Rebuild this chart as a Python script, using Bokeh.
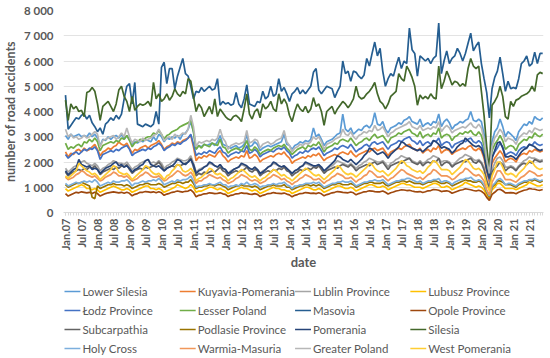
import math
from bokeh.plotting import figure
from bokeh.models import Range1d, FixedTicker, ColumnDataSource
from bokeh.core.properties import value
from bokeh.layouts import column
from bokeh.embed import file_html
from bokeh.resources import INLINE

# ---------------- data (monthly, Jan 2007 - Dec 2021) ----------------
x_labels = ["Jan.07", "Jul 07", "Jan.08", "Jul 08", "Jan 09", "Jul 09", "Jan 10", "Jul 10",
            "Jan.11", "Jul 11", "Jan 12", "Jul 12", "Jan 13", "Jul 13", "Jan 14", "Jul 14",
            "Jan 15", "Jul 15", "Jan 16", "Jul 16", "Jan 17", "Jul 17", "Jan 18", "Jul 18",
            "Jan 19", "Jul 19", "Jan 20", "Jul 20", "Jan 21", "Jul 21"]
y_ticks = [0, 1000, 2000, 3000, 4000, 5000, 6000, 7000, 8000]
y_tick_labels = ["0", "1 000", "2 000", "3 000", "4 000", "5 000", "6 000", "7 000", "8 000"]

lower_silesia = [
    3050, 2900, 3100, 3000, 3050, 3100, 3000, 3050, 3000, 3150, 3000, 3100,
    2950, 2650, 2900, 2850, 3000, 2900, 3000, 3050, 2950, 3100, 2900, 3050,
    2900, 2700, 2800, 2750, 2850, 2800, 2900, 2850, 2800, 3000, 2850, 3100,
    3000, 2800, 2950, 2900, 3000, 2950, 3050, 2900, 3100, 3150, 3300, 3600,
    3200, 2500, 2650, 2600, 2700, 2650, 2700, 2750, 2650, 2800, 3050, 2700,
    2650, 2600, 2550, 2600, 2650, 2550, 2600, 2700, 3100, 2600, 2650, 2800,
    2700, 2450, 2550, 2600, 2650, 2600, 2650, 2700, 2750, 2800, 3100, 2700,
    2650, 2500, 2650, 2700, 2800, 2750, 2850, 2800, 2900, 3350, 3000, 3100,
    2900, 2650, 2800, 2850, 2900, 3000, 3100, 3150, 3900, 3300, 3200, 3350,
    3100, 3200, 3300, 3250, 3400, 3450, 3350, 3500, 3950, 3500, 3450, 3600,
    3300, 3150, 3350, 3400, 3450, 3550, 3500, 3650, 3700, 3800, 3600, 3550,
    3500, 3700, 3400, 3500, 3550, 3450, 3600, 3550, 3900, 3400, 3600, 3700,
    3550, 3300, 3450, 3500, 3600, 3550, 3650, 3700, 4000, 3650, 3600, 3700,
    3600, 3100, 2300, 1650, 2800, 3200, 3350, 3700, 3400, 3000, 3200, 3100,
    3000, 2850, 3200, 3350, 3500, 3450, 3600, 3500, 3800, 3700, 3650, 3750]

kuyavia_pomerania = [
    2400, 2200, 2350, 2300, 2450, 2500, 2400, 2550, 2450, 2500, 2600, 2700,
    2500, 2250, 2400, 2450, 2550, 2500, 2600, 2650, 2800, 2700, 2650, 2750,
    2550, 2350, 2500, 2450, 2550, 2600, 2650, 2550, 2650, 2700, 2750, 2850,
    2700, 2500, 2600, 2650, 2750, 2700, 2800, 2750, 2850, 2900, 2950, 3050,
    2600, 2050, 2200, 2150, 2250, 2200, 2300, 2250, 2200, 2350, 2450, 2250,
    2150, 2000, 2100, 2150, 2200, 2150, 2250, 2200, 2450, 2150, 2200, 2300,
    2200, 2000, 2100, 2150, 2200, 2250, 2200, 2300, 2350, 2300, 2400, 2250,
    2150, 1950, 2050, 2100, 2150, 2200, 2150, 2250, 2200, 2300, 2250, 2350,
    2200, 2050, 2150, 2200, 2250, 2300, 2250, 2350, 2400, 2350, 2300, 2450,
    2300, 2200, 2300, 2350, 2400, 2450, 2400, 2500, 2550, 2450, 2500, 2550,
    2400, 2250, 2400, 2450, 2500, 2550, 2500, 2600, 2650, 2700, 2550, 2500,
    2450, 2550, 2350, 2450, 2500, 2400, 2550, 2500, 2650, 2350, 2450, 2500,
    2450, 2300, 2400, 2450, 2500, 2550, 2500, 2600, 2650, 2500, 2450, 2550,
    2450, 2150, 1600, 1200, 1950, 2150, 2300, 2450, 2300, 2000, 2100, 2150,
    2100, 2000, 2200, 2300, 2350, 2300, 2450, 2400, 2500, 2450, 2400, 2450]

lublin = [
    1750, 1600, 1700, 1800, 1850, 1900, 2000, 2050, 1950, 1900, 1850, 1950,
    1850, 1650, 1750, 1800, 1900, 1950, 2050, 2000, 1950, 1950, 1900, 2000,
    1850, 1700, 1800, 1850, 1950, 2000, 2050, 2100, 1950, 2000, 1950, 2050,
    1950, 1750, 1850, 1900, 2000, 2050, 2150, 2100, 2050, 2050, 2100, 2250,
    1950, 1600, 1700, 1750, 1800, 1850, 1950, 1900, 1850, 1800, 1900, 1750,
    1700, 1550, 1650, 1700, 1750, 1800, 1900, 1850, 1800, 1750, 1700, 1800,
    1700, 1550, 1650, 1700, 1800, 1850, 1950, 1900, 1850, 1800, 1850, 1750,
    1650, 1550, 1650, 1700, 1800, 1850, 1950, 1900, 1850, 1850, 1800, 1900,
    1750, 1600, 1700, 1800, 1850, 1950, 2050, 2000, 1950, 1900, 1850, 1950,
    1850, 1750, 1850, 1900, 2000, 2050, 2150, 2100, 2050, 2000, 2000, 2050,
    1950, 1800, 1950, 2000, 2100, 2150, 2250, 2200, 2150, 2150, 2050, 2000,
    1950, 2050, 1950, 2000, 2100, 2150, 2250, 2200, 2150, 2000, 2050, 2050,
    2000, 1850, 1950, 2050, 2150, 2200, 2300, 2250, 2200, 2100, 2050, 2100,
    2000, 1800, 1300, 1000, 1700, 1950, 2150, 2200, 2050, 1800, 1800, 1850,
    1800, 1700, 1850, 1950, 2050, 2100, 2200, 2150, 2150, 2100, 2050, 2100]

lubusz = [
    950, 850, 900, 950, 1000, 1050, 1100, 1050, 950, 950, 900, 950,
    900, 800, 850, 900, 950, 1000, 1050, 1000, 950, 900, 900, 950,
    900, 800, 850, 900, 950, 1000, 1050, 1050, 950, 950, 900, 950,
    900, 800, 850, 900, 950, 1000, 1100, 1050, 1000, 950, 1000, 1100,
    1000, 800, 850, 850, 900, 950, 1000, 1000, 950, 900, 950, 900,
    850, 750, 800, 850, 900, 950, 1000, 950, 950, 900, 850, 900,
    850, 750, 800, 850, 900, 950, 1000, 950, 950, 900, 900, 850,
    850, 750, 800, 850, 900, 950, 1000, 1000, 950, 900, 900, 950,
    900, 800, 850, 900, 950, 1000, 1050, 1050, 1000, 950, 950, 1000,
    950, 850, 900, 950, 1000, 1050, 1100, 1100, 1050, 1000, 1000, 1050,
    1000, 900, 950, 1000, 1050, 1100, 1150, 1150, 1100, 1100, 1050, 1000,
    1000, 1000, 950, 1000, 1050, 1100, 1150, 1150, 1100, 1000, 1000, 1050,
    1000, 900, 950, 1000, 1050, 1100, 1200, 1150, 1100, 1050, 1000, 1050,
    1000, 900, 700, 550, 900, 1000, 1150, 1150, 1050, 950, 950, 950,
    950, 900, 950, 1000, 1050, 1100, 1200, 1150, 1100, 1050, 1050, 1100]

lodz = [
    2300, 2150, 2250, 2350, 2400, 2300, 2400, 2500, 2450, 2550, 2500, 2600,
    2450, 2100, 2300, 2350, 2400, 2450, 2400, 2500, 2450, 2550, 2600, 2650,
    2500, 2250, 2350, 2400, 2450, 2500, 2450, 2550, 2500, 2600, 2650, 2750,
    2650, 2450, 2550, 2600, 2700, 2650, 2750, 2700, 2800, 2850, 2950, 3100,
    2700, 2250, 2350, 2300, 2400, 2350, 2450, 2400, 2350, 2500, 2600, 2400,
    2350, 2200, 2300, 2350, 2400, 2350, 2450, 2400, 2650, 2350, 2400, 2500,
    2400, 2200, 2300, 2350, 2400, 2450, 2400, 2500, 2550, 2500, 2600, 2450,
    2350, 2150, 2250, 2300, 2400, 2350, 2450, 2400, 2500, 2550, 2500, 2600,
    2450, 2250, 2350, 2400, 2450, 2550, 2500, 2600, 2650, 2600, 2550, 2700,
    2550, 2400, 2500, 2550, 2650, 2700, 2600, 2750, 2800, 2700, 2750, 2800,
    2650, 2500, 2650, 2700, 2750, 2850, 2800, 2900, 2950, 3000, 2850, 2800,
    2700, 2850, 2650, 2750, 2800, 2700, 2850, 2800, 2950, 2650, 2750, 2800,
    2750, 2550, 2700, 2750, 2800, 2850, 2800, 2900, 2950, 2800, 2750, 2850,
    2750, 2400, 1750, 1300, 2200, 2400, 2550, 2750, 2600, 2250, 2350, 2400,
    2350, 2250, 2450, 2550, 2600, 2550, 2700, 2650, 2800, 2700, 2650, 2700]

lesser_poland = [
    2750, 2500, 2600, 2550, 2650, 2700, 2600, 2800, 2750, 2900, 2800, 2950,
    2800, 2450, 2650, 2700, 2750, 2800, 2750, 2850, 2800, 2950, 2900, 3050,
    2850, 2600, 2750, 2800, 2900, 2850, 2950, 3000, 3000, 3150, 3100, 3250,
    3100, 2900, 3050, 3100, 3200, 3250, 3300, 3400, 3450, 3500, 3550, 3650,
    3200, 2500, 2650, 2550, 2700, 2650, 2600, 2750, 2700, 2650, 2900, 2600,
    2550, 2350, 2450, 2500, 2550, 2500, 2450, 2600, 2850, 2500, 2450, 2600,
    2500, 2300, 2400, 2450, 2500, 2450, 2550, 2600, 2650, 2600, 2700, 2550,
    2450, 2300, 2400, 2500, 2550, 2600, 2500, 2650, 2600, 2700, 2650, 2800,
    2600, 2400, 2550, 2600, 2650, 2750, 2700, 2850, 2900, 2850, 2800, 2950,
    2800, 2650, 2750, 2800, 2900, 2950, 2850, 3000, 3100, 2950, 3000, 3050,
    2900, 2750, 2950, 3000, 3050, 3150, 3100, 3200, 3250, 3300, 3150, 3100,
    3000, 3200, 2950, 3050, 3100, 3000, 3150, 3100, 3350, 2950, 3050, 3100,
    3050, 2850, 3000, 3050, 3150, 3100, 3200, 3150, 3250, 3100, 3050, 3200,
    3050, 2650, 1900, 1500, 2450, 2700, 2850, 3050, 2850, 2500, 2600, 2650,
    2600, 2450, 2700, 2800, 2900, 2850, 3000, 2950, 3150, 3050, 3000, 3100]

masovia = [
    4650, 3300, 3450, 3600, 3750, 3700, 3850, 3900, 3700, 3850, 3550, 3400,
    3200, 3350, 3100, 3500, 3600, 3750, 3650, 3850, 3700, 3900, 4500, 5000,
    5100, 4300, 5150, 3500, 3450, 3400, 3500, 3450, 3400, 3500, 4000, 3500,
    5750, 5950, 5100, 5700, 5700, 4900, 5400, 5750, 6100, 5500, 5400, 5000,
    4500, 4800, 4750, 4950, 4800, 4900, 5000, 4850, 4900, 5300, 4250, 4400,
    4300, 4350, 4250, 4300, 4750, 4300, 4150, 4500, 5050, 4300, 4250, 4200,
    4400, 4350, 4800, 4500, 4600, 5000, 4600, 4700, 5300, 4800, 4950, 4700,
    4400, 4700, 4800, 4950, 4700, 4850, 4700, 4850, 5000, 5550, 5700, 4850,
    4700, 4850, 5000, 4950, 4900, 4550, 4800, 5000, 6000, 5500, 5600, 5200,
    5600, 5550, 5400, 5300, 5450, 6100, 5800, 6300, 6750, 6200, 6500, 5600,
    5000, 5300, 5500, 5400, 5800, 6150, 5700, 6000, 5900, 7300, 6450, 6300,
    5400, 6200, 6100, 6000, 6100, 5900, 6100, 6200, 7500, 5500, 6000, 6400,
    5900, 6100, 6200, 6500, 6300, 6000, 6300, 6700, 7100, 6400, 6600, 6750,
    5900, 5300, 4750, 3750, 4900, 5350, 5600, 6150, 5500, 4800, 5200, 4900,
    4950, 4900, 5300, 5900, 6000, 6200, 5800, 5900, 6350, 5900, 6300, 6300]

opole = [
    750, 650, 700, 750, 800, 780, 820, 800, 780, 800, 750, 800,
    750, 650, 700, 750, 780, 800, 820, 800, 780, 800, 760, 800,
    760, 660, 720, 750, 800, 800, 830, 820, 800, 820, 780, 820,
    780, 680, 730, 760, 800, 820, 850, 830, 810, 840, 850, 900,
    800, 620, 680, 700, 740, 750, 780, 770, 750, 760, 780, 740,
    720, 630, 680, 700, 740, 750, 780, 760, 760, 730, 720, 750,
    720, 630, 680, 710, 750, 760, 790, 770, 760, 750, 770, 730,
    700, 620, 680, 710, 750, 760, 790, 780, 760, 770, 750, 780,
    740, 660, 710, 740, 780, 800, 830, 820, 800, 790, 780, 810,
    780, 700, 750, 780, 820, 830, 860, 850, 830, 820, 820, 850,
    800, 730, 780, 810, 850, 870, 900, 890, 870, 880, 850, 830,
    820, 830, 790, 820, 860, 870, 910, 900, 880, 830, 850, 860,
    830, 760, 800, 840, 880, 900, 940, 920, 900, 870, 850, 880,
    840, 760, 600, 480, 720, 800, 900, 920, 860, 780, 780, 790,
    780, 740, 800, 840, 880, 900, 950, 930, 920, 890, 880, 910]

subcarpathia = [
    1600, 1450, 1550, 1600, 1650, 1700, 1650, 1750, 1700, 1800, 1750, 1850,
    1700, 1500, 1600, 1650, 1700, 1750, 1700, 1800, 1750, 1850, 1800, 1900,
    1700, 1550, 1650, 1700, 1750, 1700, 1800, 1750, 1800, 1850, 1900, 2000,
    1850, 1650, 1750, 1800, 1850, 1800, 1900, 1850, 1900, 1950, 2000, 2150,
    1800, 1450, 1550, 1500, 1600, 1550, 1600, 1650, 1600, 1700, 1800, 1650,
    1600, 1450, 1550, 1600, 1650, 1600, 1650, 1700, 1800, 1650, 1600, 1700,
    1650, 1450, 1550, 1600, 1650, 1600, 1700, 1650, 1750, 1700, 1800, 1650,
    1600, 1450, 1550, 1600, 1700, 1650, 1700, 1750, 1700, 1800, 1750, 1850,
    1700, 1550, 1650, 1700, 1750, 1800, 1750, 1850, 1900, 1850, 1800, 1900,
    1800, 1650, 1750, 1800, 1850, 1900, 1850, 1950, 2000, 1900, 1950, 2000,
    1850, 1700, 1850, 1900, 1950, 2000, 1950, 2050, 2100, 2150, 2000, 1950,
    1900, 2000, 1850, 1950, 2000, 1950, 2050, 2000, 2150, 1850, 1950, 2000,
    1950, 1800, 1900, 1950, 2000, 2050, 2000, 2100, 2150, 2000, 1950, 2050,
    1950, 1700, 1250, 950, 1600, 1750, 1850, 2000, 1900, 1650, 1750, 1800,
    1750, 1650, 1800, 1900, 1950, 1900, 2000, 1950, 2100, 2050, 2000, 2050]

podlasie = [
    1100, 1000, 1050, 1100, 1150, 1150, 1200, 1150, 1100, 1050, 600, 550,
    1050, 950, 1000, 1050, 1100, 1100, 1150, 1100, 1100, 1100, 1050, 1100,
    1050, 950, 1000, 1050, 1100, 1100, 1150, 1150, 1100, 1100, 1100, 1150,
    1100, 1000, 1050, 1100, 1150, 1150, 1200, 1200, 1150, 1200, 1200, 1300,
    1150, 950, 1000, 1000, 1050, 1050, 1100, 1100, 1050, 1100, 1100, 1050,
    1000, 900, 950, 1000, 1050, 1050, 1100, 1050, 1050, 1050, 1000, 1050,
    1000, 900, 950, 1000, 1050, 1050, 1100, 1050, 1050, 1050, 1100, 1000,
    1000, 900, 950, 1000, 1050, 1050, 1100, 1100, 1050, 1100, 1050, 1100,
    1050, 950, 1000, 1050, 1100, 1100, 1150, 1150, 1100, 1100, 1100, 1150,
    1100, 1000, 1050, 1100, 1150, 1150, 1200, 1200, 1150, 1150, 1150, 1200,
    1100, 1050, 1100, 1150, 1200, 1200, 1250, 1250, 1200, 1250, 1200, 1150,
    1150, 1150, 1100, 1150, 1200, 1200, 1250, 1250, 1200, 1150, 1150, 1200,
    1150, 1050, 1100, 1150, 1200, 1250, 1300, 1250, 1250, 1200, 1200, 1250,
    1200, 1050, 800, 600, 1000, 1100, 1250, 1250, 1200, 1100, 1100, 1100,
    1050, 1000, 1100, 1150, 1200, 1200, 1300, 1250, 1300, 1250, 1200, 1250]

pomerania = [
    1650, 1500, 1600, 1700, 1750, 2100, 1900, 1850, 1800, 1850, 1700, 1750,
    1700, 1550, 1650, 1750, 1800, 1850, 1950, 2000, 1850, 1900, 1800, 1850,
    1750, 1600, 1700, 1750, 1850, 1900, 2050, 2100, 1900, 1850, 1800, 1850,
    1750, 1650, 1750, 1800, 1850, 1950, 2100, 2050, 1950, 1900, 2000, 2100,
    1900, 1550, 1650, 1700, 1800, 1850, 2000, 1950, 1850, 1800, 1900, 1750,
    1700, 1550, 1600, 1700, 1750, 1800, 1950, 1900, 1850, 1750, 1700, 1800,
    1700, 1550, 1600, 1700, 1800, 1850, 2000, 1950, 1850, 1800, 1850, 1750,
    1650, 1550, 1650, 1700, 1800, 1850, 2000, 1950, 1900, 1850, 1850, 1900,
    1800, 1650, 1750, 1850, 1950, 2050, 2250, 2200, 2100, 2050, 2000, 2100,
    2000, 1900, 2000, 2100, 2250, 2350, 2550, 2500, 2400, 2300, 2350, 2400,
    2300, 2150, 2300, 2400, 2500, 2600, 2800, 2750, 2650, 2600, 2550, 2500,
    2450, 2500, 2400, 2500, 2600, 2650, 2850, 2800, 2700, 2550, 2600, 2550,
    2500, 2350, 2450, 2600, 2700, 2750, 2950, 2850, 2750, 2650, 2600, 2650,
    2550, 2250, 1700, 1350, 2150, 2450, 2750, 2800, 2550, 2200, 2200, 2250,
    2200, 2100, 2250, 2400, 2500, 2550, 2700, 2650, 2600, 2500, 2450, 2500]

silesia = [
    4450, 3650, 4300, 4100, 4200, 4000, 4050, 3800, 4750, 4800, 4950, 4800,
    4300, 3650, 4200, 4300, 4400, 4200, 4000, 4300, 4850, 5000, 4600, 4400,
    4000, 4600, 4050, 4200, 4300, 4250, 4300, 4400, 4200, 5150, 4500, 4700,
    4400, 4500, 4700, 4450, 4600, 4900, 4700, 4600, 4800, 4700, 5300, 5200,
    4600, 4000, 4300, 4150, 3800, 4000, 4200, 3900, 4500, 3800, 4100, 3950,
    3800, 3700, 3650, 3800, 3850, 3750, 3600, 4100, 4700, 3900, 3700, 4000,
    4100, 3750, 4300, 4100, 4200, 4400, 4100, 4000, 4700, 4300, 4500, 4300,
    3850, 3600, 4000, 4300, 4100, 4000, 4200, 3950, 4100, 4550, 4200, 4300,
    4000, 3450, 4000, 4100, 4200, 3900, 4100, 4250, 4400, 4300, 4150, 4300,
    4500, 5000, 4600, 4500, 4550, 4700, 4800, 4950, 5150, 4700, 4400, 4300,
    4100, 4300, 4600, 4700, 4800, 5500, 5300, 5200, 5800, 5600, 5350, 5000,
    4250, 4650, 4500, 4600, 4500, 4700, 4550, 4500, 5800, 4900, 5200, 5600,
    5350, 5050, 5200, 5150, 5000, 5100, 5000, 5700, 6100, 5800, 5700, 5800,
    4800, 3850, 2600, 1650, 4250, 4400, 4600, 5000, 4600, 3800, 3700, 4400,
    4200, 4450, 4500, 4600, 4650, 4700, 4800, 5000, 4800, 5450, 5550, 5500]

holy_cross = [
    1150, 1050, 1100, 1150, 1200, 1150, 1200, 1250, 1200, 1250, 1200, 1300,
    1200, 1050, 1100, 1150, 1200, 1150, 1250, 1200, 1200, 1250, 1250, 1300,
    1200, 1050, 1150, 1150, 1200, 1250, 1200, 1250, 1250, 1300, 1250, 1350,
    1250, 1100, 1150, 1200, 1250, 1200, 1300, 1250, 1300, 1300, 1350, 1450,
    1250, 1000, 1050, 1050, 1100, 1100, 1150, 1100, 1100, 1150, 1200, 1100,
    1100, 1000, 1050, 1050, 1100, 1050, 1150, 1100, 1200, 1100, 1100, 1150,
    1100, 1000, 1050, 1050, 1100, 1100, 1150, 1100, 1150, 1150, 1200, 1100,
    1050, 950, 1050, 1050, 1100, 1100, 1150, 1150, 1150, 1200, 1150, 1200,
    1100, 1000, 1050, 1100, 1150, 1150, 1200, 1200, 1250, 1200, 1200, 1250,
    1150, 1050, 1100, 1150, 1200, 1200, 1250, 1250, 1300, 1250, 1250, 1300,
    1200, 1100, 1150, 1200, 1250, 1250, 1300, 1300, 1350, 1350, 1300, 1250,
    1200, 1250, 1150, 1200, 1250, 1250, 1300, 1300, 1350, 1200, 1250, 1250,
    1200, 1100, 1200, 1250, 1300, 1300, 1350, 1350, 1400, 1300, 1250, 1300,
    1250, 1100, 850, 650, 1050, 1150, 1300, 1350, 1250, 1100, 1150, 1150,
    1100, 1050, 1150, 1200, 1250, 1250, 1300, 1300, 1350, 1300, 1250, 1300]

warmia_masuria = [
    1400, 1300, 1350, 1400, 1500, 1550, 1650, 1600, 1500, 1450, 1400, 1450,
    1350, 1250, 1300, 1400, 1450, 1500, 1600, 1550, 1450, 1450, 1400, 1450,
    1350, 1250, 1300, 1350, 1450, 1500, 1600, 1550, 1450, 1400, 1400, 1450,
    1350, 1250, 1300, 1400, 1450, 1550, 1650, 1600, 1500, 1450, 1500, 1600,
    1450, 1150, 1250, 1250, 1350, 1400, 1500, 1450, 1400, 1350, 1400, 1300,
    1250, 1150, 1200, 1250, 1350, 1400, 1500, 1450, 1400, 1300, 1250, 1300,
    1250, 1150, 1200, 1250, 1350, 1400, 1500, 1450, 1400, 1300, 1350, 1250,
    1200, 1100, 1200, 1250, 1350, 1400, 1500, 1450, 1400, 1300, 1300, 1350,
    1250, 1150, 1250, 1300, 1400, 1450, 1550, 1500, 1450, 1350, 1350, 1400,
    1300, 1200, 1300, 1350, 1450, 1500, 1650, 1600, 1500, 1400, 1400, 1450,
    1350, 1250, 1350, 1400, 1500, 1600, 1700, 1650, 1550, 1500, 1450, 1400,
    1350, 1400, 1300, 1400, 1500, 1550, 1700, 1650, 1550, 1450, 1450, 1450,
    1400, 1300, 1350, 1450, 1550, 1600, 1750, 1700, 1600, 1500, 1450, 1500,
    1400, 1250, 900, 700, 1200, 1400, 1650, 1650, 1500, 1300, 1300, 1300,
    1250, 1200, 1300, 1400, 1450, 1550, 1650, 1600, 1550, 1450, 1450, 1500]

greater_poland = [
    3300, 3000, 3100, 2950, 3000, 2900, 2950, 3050, 2950, 3000, 3100, 3200,
    3100, 2600, 2850, 2900, 2950, 3000, 3050, 2900, 3000, 3150, 3000, 3350,
    3000, 2750, 2900, 2850, 2800, 2950, 2850, 2900, 2950, 3050, 3100, 3300,
    3100, 2850, 2950, 3000, 2900, 3100, 3000, 3050, 3150, 3100, 3300, 3850,
    3400, 2600, 2800, 2750, 2800, 2850, 2800, 2900, 2850, 2950, 3300, 2950,
    2800, 2500, 2650, 2700, 2750, 2700, 2750, 2800, 3250, 2750, 2800, 2900,
    2850, 2550, 2700, 2750, 2800, 2700, 2750, 2850, 2900, 2950, 3250, 2800,
    2650, 2400, 2550, 2600, 2700, 2650, 2750, 2700, 2800, 3000, 2900, 3000,
    2800, 2500, 2700, 2750, 2800, 2900, 2950, 3000, 3300, 3100, 3050, 3200,
    3000, 2900, 3050, 3100, 3200, 3150, 3250, 3200, 3450, 3250, 3300, 3400,
    3200, 3000, 3150, 3200, 3300, 3350, 3400, 3450, 3500, 3600, 3400, 3350,
    3300, 3450, 3250, 3300, 3350, 3300, 3400, 3350, 3600, 3200, 3350, 3450,
    3350, 3150, 3250, 3300, 3350, 3400, 3350, 3450, 3550, 3400, 3350, 3500,
    3350, 2900, 2100, 1550, 2600, 2950, 3100, 3300, 3150, 2800, 2950, 2900,
    2850, 2700, 2950, 3050, 3150, 3100, 3250, 3150, 3350, 3300, 3250, 3300]

west_pomerania = [
    1450, 1350, 1450, 1550, 1650, 1950, 1850, 1750, 1650, 1600, 1500, 1550,
    1450, 1300, 1400, 1500, 1600, 1700, 1850, 1800, 1600, 1550, 1500, 1550,
    1450, 1300, 1400, 1500, 1600, 1700, 1850, 1800, 1650, 1550, 1500, 1550,
    1450, 1300, 1450, 1500, 1650, 1750, 1900, 1850, 1650, 1600, 1650, 1750,
    1600, 1250, 1350, 1400, 1500, 1600, 1750, 1700, 1550, 1500, 1550, 1450,
    1400, 1250, 1350, 1400, 1500, 1600, 1700, 1650, 1550, 1450, 1400, 1450,
    1350, 1250, 1350, 1400, 1500, 1600, 1700, 1650, 1550, 1450, 1500, 1400,
    1350, 1250, 1350, 1450, 1550, 1650, 1750, 1700, 1600, 1500, 1450, 1500,
    1400, 1300, 1400, 1500, 1600, 1700, 1850, 1800, 1650, 1550, 1500, 1550,
    1500, 1400, 1500, 1600, 1700, 1800, 1950, 1900, 1750, 1650, 1600, 1650,
    1550, 1450, 1550, 1650, 1750, 1900, 2050, 2000, 1850, 1800, 1700, 1650,
    1600, 1650, 1550, 1650, 1800, 1900, 2050, 2000, 1850, 1700, 1700, 1700,
    1650, 1500, 1600, 1700, 1800, 1950, 2100, 2050, 1900, 1750, 1700, 1750,
    1650, 1500, 1100, 850, 1450, 1700, 2000, 2000, 1800, 1550, 1500, 1550,
    1500, 1400, 1550, 1650, 1750, 1900, 2050, 2000, 1850, 1750, 1700, 1750]

series_names = ["Lower Silesia", "Kuyavia-Pomerania", "Lublin   Province", "Lubusz Province",
                "\u0141odz Province", "Lesser Poland", "Masovia", "Opole  Province",
                "Subcarpathia", "Podlasie Province", "Pomerania", "Silesia",
                "Holy Cross", "Warmia-Masuria", "Greater Poland", "West Pomerania"]
series_values = [lower_silesia, kuyavia_pomerania, lublin, lubusz,
                 lodz, lesser_poland, masovia, opole,
                 subcarpathia, podlasie, pomerania, silesia,
                 holy_cross, warmia_masuria, greater_poland, west_pomerania]
series_colors = ["#5B9BD5", "#ED7D31", "#A5A5A5", "#FFC000",
                 "#4472C4", "#70AD47", "#255E91", "#9E480E",
                 "#636363", "#997300", "#264478", "#43682B",
                 "#7CAFDD", "#F1975A", "#B7B7B7", "#FFCD33"]

# ---------------- main chart ----------------
FONT = "Lato"
TXT = "#595959"
PAGE_W = 550
BORDER_L, BORDER_R = 60, 7
n_months = len(masovia)
months = list(range(n_months))
tick_pos = [6 * i for i in range(len(x_labels))]

p = figure(width=PAGE_W, height=280, output_backend="svg", toolbar_location=None,
           x_range=Range1d(-0.75, n_months - 0.7), y_range=Range1d(0, 8000),
           min_border_top=10, min_border_right=BORDER_R, min_border_left=BORDER_L,
           min_border_bottom=68)
p.outline_line_color = None
p.background_fill_color = "white"
p.border_fill_color = "white"

for vals, col in zip(series_values, series_colors):
    p.line(months, vals, line_color=col, line_width=1.7)

p.xgrid.grid_line_color = None
p.ygrid.grid_line_color = "#E3E3E3"
p.ygrid.ticker = FixedTicker(ticks=y_ticks)

ya = p.yaxis[0]
ya.ticker = FixedTicker(ticks=y_ticks)
ya.major_label_overrides = {t: s for t, s in zip(y_ticks, y_tick_labels)}
ya.axis_line_color = None
ya.major_tick_line_color = None
ya.major_tick_in = 0
ya.major_tick_out = 0
ya.minor_tick_line_color = None
ya.minor_tick_in = 0
ya.minor_tick_out = 0
ya.major_label_text_font = FONT
ya.major_label_text_font_style = "bold"
ya.major_label_text_font_size = "11.5px"
ya.major_label_text_color = TXT
ya.major_label_standoff = 10
ya.axis_label = "number of road accidents"
ya.axis_label_text_font = FONT
ya.axis_label_text_font_style = "bold"
ya.axis_label_text_font_size = "12.5px"
ya.axis_label_text_color = TXT
ya.axis_label_standoff = 3

xa = p.xaxis[0]
xa.ticker = FixedTicker(ticks=tick_pos, minor_ticks=months)
xa.major_label_overrides = {t: s for t, s in zip(tick_pos, x_labels)}
xa.major_label_orientation = math.pi / 2
xa.axis_line_color = "#D9D9D9"
xa.major_tick_line_color = "#D9D9D9"
xa.major_tick_in = 0
xa.major_tick_out = 3
xa.minor_tick_line_color = "#D9D9D9"
xa.minor_tick_in = 0
xa.minor_tick_out = 3
xa.major_label_text_font = FONT
xa.major_label_text_font_style = "bold"
xa.major_label_text_font_size = "11px"
xa.major_label_text_color = TXT
xa.major_label_standoff = 3
xa.axis_label = "date"
xa.axis_label_text_font = FONT
xa.axis_label_text_font_style = "bold"
xa.axis_label_text_font_size = "13px"
xa.axis_label_text_color = TXT
xa.axis_label_standoff = 1

# ---------------- legend panel (4 x 4 grid, row-major) ----------------
# The panel uses the same side borders as the chart, and its x range is expressed
# in page pixels (frame spans BORDER_L .. PAGE_W - BORDER_R).
LG_H = 78
COLS = 4
col_x0, col_step = 61.0, 116.0
row_y0, row_step = 67.0, 19.0
sample_len, gap = 16.0, 2.0

lg = figure(width=PAGE_W, height=LG_H, output_backend="svg", toolbar_location=None,
            x_range=Range1d(BORDER_L, PAGE_W - BORDER_R), y_range=Range1d(0, LG_H),
            x_axis_location=None, y_axis_location=None,
            min_border_left=BORDER_L, min_border_right=BORDER_R,
            min_border_top=0, min_border_bottom=0)
lg.outline_line_color = None
lg.grid.visible = False
lg.background_fill_color = "white"
lg.border_fill_color = "white"

gx0, gx1, gy, tx = [], [], [], []
for i in range(len(series_names)):
    r, c = divmod(i, COLS)
    x0 = col_x0 + c * col_step
    gx0.append(x0)
    gx1.append(x0 + sample_len)
    tx.append(x0 + sample_len + gap)
    gy.append(row_y0 - r * row_step)

src = ColumnDataSource(dict(x0=gx0, x1=gx1, y=gy, tx=tx, name=series_names, color=series_colors))
lg.segment(x0="x0", y0="y", x1="x1", y1="y", line_color="color", line_width=1.5, source=src)
lg.text(x="tx", y="y", text="name", source=src, text_font=value(FONT), text_font_size="11.5px",
        text_color=TXT, text_baseline="middle", text_align="left")

open("out.html", "w").write(file_html(column(p, lg), INLINE))
